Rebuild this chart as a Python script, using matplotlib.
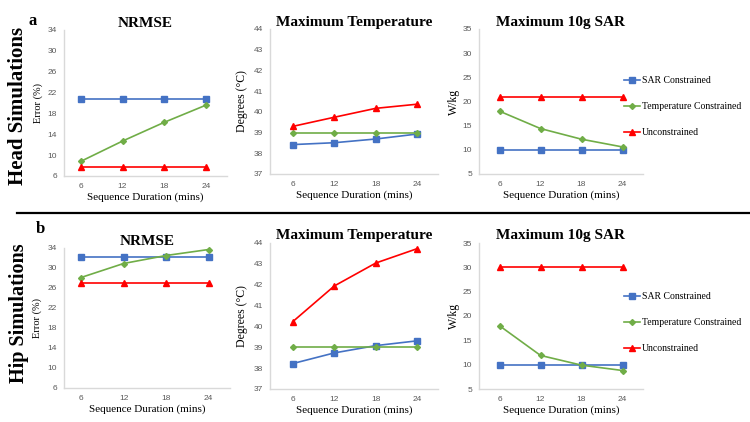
import numpy as np
import matplotlib.pyplot as plt
from matplotlib.lines import Line2D

# sequence durations (mins)
DURATIONS = ['6', '12', '18', '24']

# head simulations
head_nrmse_sar = [20.8, 20.8, 20.8, 20.8]
head_nrmse_temp = [8.8, 12.7, 16.3, 19.6]
head_nrmse_unc = [7.8, 7.8, 7.8, 7.8]

head_temp_sar = [38.42, 38.51, 38.69, 38.93]
head_temp_temp = [39.0, 39.0, 39.0, 39.0]
head_temp_unc = [39.3, 39.74, 40.17, 40.37]

head_sar_sar = [10.0, 10.0, 10.0, 10.0]
head_sar_temp = [18.0, 14.4, 12.2, 10.6]
head_sar_unc = [20.9, 20.9, 20.9, 20.9]

# hip simulations
hip_nrmse_sar = [32.2, 32.2, 32.2, 32.2]
hip_nrmse_temp = [28.1, 30.9, 32.5, 33.7]
hip_nrmse_unc = [27.0, 27.0, 27.0, 27.0]

hip_temp_sar = [38.22, 38.73, 39.08, 39.31]
hip_temp_temp = [39.0, 39.0, 39.0, 39.0]
hip_temp_unc = [40.23, 41.94, 43.04, 43.73]

hip_sar_sar = [10.0, 10.0, 10.0, 10.0]
hip_sar_temp = [18.0, 11.9, 9.9, 8.8]
hip_sar_unc = [30.0, 30.0, 30.0, 30.0]

SERIES = ['SAR Constrained', 'Temperature Constrained', 'Unconstrained']
COLORS = ['#4472C4', '#70AD47', '#FF0000']
MARKERS = ['s', 'D', '^']
MSIZES = [5, 3, 5]

SERIF = 'Liberation Serif'
SANS = 'Liberation Sans'
GRID_GREY = '#d9d9d9'
TICK_GREY = '#595959'

W, H = 750, 422
fig = plt.figure(figsize=(7.5, 4.22), dpi=100)


def px_axes(x0, x1, ytop, ybot):
    return fig.add_axes([x0 / W, 1 - ybot / H, (x1 - x0) / W, (ybot - ytop) / H])


def panel(ax, data, title, ylabel, ylim, yticks, xlim, ylab_size, ylab_x, tpad):
    x = np.arange(len(DURATIONS))
    for vals, c, m, ms in zip(data, COLORS, MARKERS, MSIZES):
        ax.plot(x, vals, color=c, marker=m, markersize=ms, lw=1.2,
                markeredgecolor=c, clip_on=False, zorder=3)
    ax.set_xlim(*xlim)
    ax.set_ylim(*ylim)
    ax.set_yticks(yticks)
    ax.set_xticks(x)
    ax.set_xticklabels(DURATIONS)
    for s in ['top', 'right']:
        ax.spines[s].set_visible(False)
    for s in ['left', 'bottom']:
        ax.spines[s].set_color(GRID_GREY)
        ax.spines[s].set_linewidth(1.0)
    ax.tick_params(length=0, labelsize=6, labelcolor=TICK_GREY, pad=5)
    for lab in ax.get_xticklabels() + ax.get_yticklabels():
        lab.set_fontfamily(SANS)
    ax.set_title(title, fontfamily=SERIF, fontweight='bold', fontsize=11, pad=tpad)
    ax.set_xlabel('Sequence Duration (mins)', fontfamily=SERIF, fontsize=8, labelpad=2)
    ax.set_ylabel(ylabel, fontfamily=SERIF, fontsize=ylab_size)
    ax.yaxis.set_label_coords(ylab_x, 0.5)


head = [
    ([head_nrmse_sar, head_nrmse_temp, head_nrmse_unc], 'NRMSE', 'Error (%)',
     (6, 34), range(6, 35, 4), (-0.4, 3.5), 7.5, -0.13, 0),
    ([head_temp_sar, head_temp_temp, head_temp_unc], 'Maximum Temperature', 'Degrees (°C)',
     (37, 44), range(37, 45), (-0.55, 3.5), 8.5, -0.13, 0),
    ([head_sar_sar, head_sar_temp, head_sar_unc], 'Maximum 10g SAR', 'W/kg',
     (5, 35), range(5, 36, 5), (-0.5, 3.5), 8.5, -0.115, 0),
]
hip = [
    ([hip_nrmse_sar, hip_nrmse_temp, hip_nrmse_unc], 'NRMSE', 'Error (%)',
     (6, 34), range(6, 35, 4), (-0.4, 3.5), 7.5, -0.13, 1),
    ([hip_temp_sar, hip_temp_temp, hip_temp_unc], 'Maximum Temperature', 'Degrees (°C)',
     (37, 44), range(37, 45), (-0.55, 3.5), 8.5, -0.13, 3),
    ([hip_sar_sar, hip_sar_temp, hip_sar_unc], 'Maximum 10g SAR', 'W/kg',
     (5, 35), range(5, 36, 5), (-0.5, 3.5), 8.5, -0.115, 3),
]

top_boxes = [(64, 227, 30, 176), (270, 438, 29, 174), (479, 643, 29, 174)]
bot_boxes = [(64, 230, 248, 388), (270, 438, 243, 389), (479, 643, 243, 389)]

for box, args in zip(top_boxes, head):
    panel(px_axes(*box), *args)
for box, args in zip(bot_boxes, hip):
    panel(px_axes(*box), *args)

# legends
handles = [Line2D([], [], color=c, marker=m, markersize=ms, lw=1.2)
           for c, m, ms in zip(COLORS, MARKERS, MSIZES)]
for ytop in (76, 292):
    fig.legend(handles, SERIES, loc='upper left', bbox_to_anchor=(624 / W, 1 - ytop / H),
               frameon=False, handlelength=1.6, handletextpad=0.2, labelspacing=1.75,
               borderaxespad=0, borderpad=0, prop={'family': SERIF, 'size': 7})

# row labels
fig.text(33 / W, 1 - 21 / H, 'a', fontfamily=SERIF, fontweight='bold', fontsize=12,
         ha='center', va='center')
fig.text(40 / W, 1 - 229 / H, 'b', fontfamily=SERIF, fontweight='bold', fontsize=12,
         ha='center', va='center')
fig.text(18 / W, 1 - 106 / H, 'Head Simulations', fontfamily=SERIF, fontweight='bold',
         fontsize=15, rotation=90, ha='center', va='center')
fig.text(19 / W, 1 - 313 / H, 'Hip Simulations', fontfamily=SERIF, fontweight='bold',
         fontsize=14.5, rotation=90, ha='center', va='center')

# separator
fig.add_artist(Line2D([17 / W, 1.0], [1 - 213 / H, 1 - 213 / H], color='black', lw=1.6))

fig.savefig('out.png', dpi=100)
